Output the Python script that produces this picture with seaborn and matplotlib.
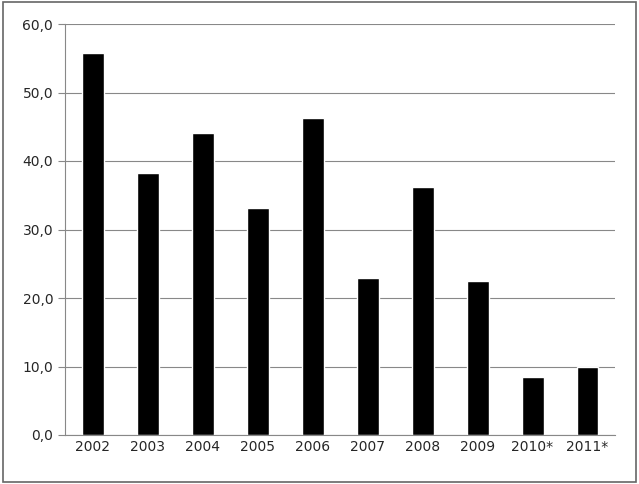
import matplotlib
matplotlib.use("Agg")
import matplotlib.pyplot as plt
import seaborn as sns
import pandas as pd
from matplotlib.ticker import FuncFormatter, MultipleLocator

years = ["2002","2003","2004","2005","2006","2007","2008","2009","2010*","2011*"]
values = [55.8,38.2,44.1,33.1,46.3,22.9,36.2,22.5,8.5,9.9]
df = pd.DataFrame({"year": years, "value": values})

sns.set_style("white")
plt.rcParams['font.family'] = ['DejaVu Sans']
fig = plt.figure(figsize=(6.39,4.84), dpi=100)
ax = fig.add_axes([65/639, 1-435/484, 550/639, 411/484])
sns.barplot(data=df, x="year", y="value", color="black", width=0.4, ax=ax, saturation=1)
ax.set_ylim(0,60)
ax.set_xlim(-0.5,9.5)
ax.yaxis.set_major_locator(MultipleLocator(10))
ax.yaxis.set_major_formatter(FuncFormatter(lambda v,p: f"{v:.1f}".replace(".",",")))
ax.grid(axis="y", color="#888888", linewidth=0.8)
ax.set_axisbelow(True)
for s in ["top","right"]:
    ax.spines[s].set_visible(False)
for s in ["left","bottom"]:
    ax.spines[s].set_color("#888888")
ax.set_xlabel(""); ax.set_ylabel("")
ax.set_xticks([i-0.5 for i in range(11)], minor=True)
ax.tick_params(axis="x", which="major", length=0, labelsize=10)
ax.tick_params(axis="x", which="minor", length=5, color="#888888")
ax.tick_params(axis="y", length=5, color="#888888", labelsize=10, left=True)
fig.patches.append(plt.Rectangle((0.004,0.004),0.992,0.992, transform=fig.transFigure, fill=False, edgecolor="#666666", linewidth=1.2))
fig.savefig("out.png", dpi=100)
